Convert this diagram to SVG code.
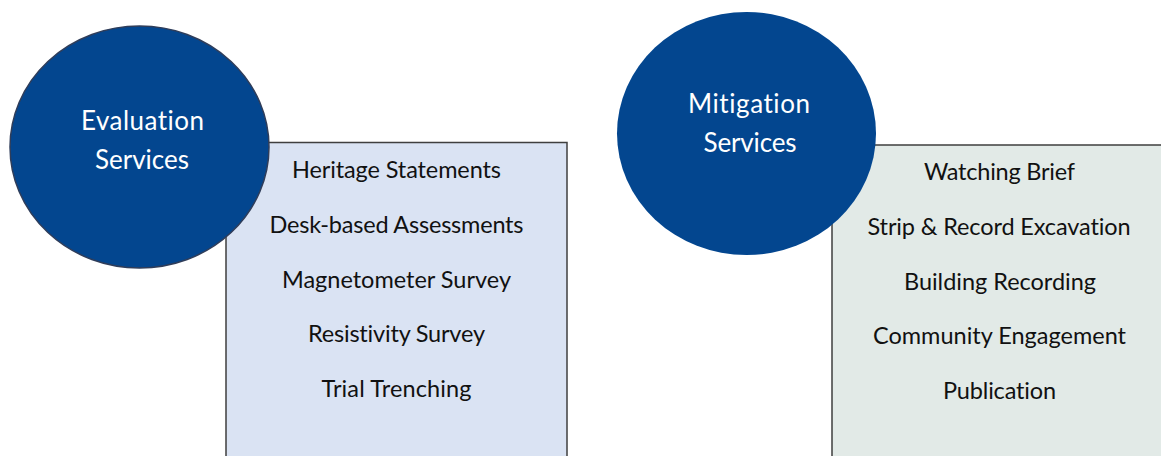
<svg xmlns="http://www.w3.org/2000/svg" width="1161" height="456" viewBox="0 0 1161 456">
  <style>
    .panel { stroke: #3f3f3f; stroke-width: 1.5; }
    .blue-panel { fill: #dae3f3; }
    .green-panel { fill: #e2eae7; }
    .hub { fill: #03468f; }
    text { font-variant-ligatures: none; }
    .item { font-family: Lato, "Open Sans", sans-serif; font-size: 23.5px; fill: #111111; text-anchor: middle; }
    .hub-label { font-family: Lato, "Open Sans", sans-serif; font-size: 26px; fill: #ffffff; text-anchor: middle; }
  </style>
  <rect width="1161" height="456" fill="#ffffff"/>

  <!-- Evaluation list panel -->
  <g id="evaluation-list">
    <rect class="panel blue-panel" x="226" y="142.5" width="341" height="330"/>
    <text class="item" x="396.5" y="177.5" textLength="209">Heritage Statements</text>
    <text class="item" x="396.5" y="232.5" textLength="254">Desk-based Assessments</text>
    <text class="item" x="396.5" y="287.5" textLength="229">Magnetometer Survey</text>
    <text class="item" x="396.5" y="341.5" textLength="177">Resistivity Survey</text>
    <text class="item" x="396.5" y="396.5" textLength="150">Trial Trenching</text>
  </g>

  <!-- Evaluation hub -->
  <g id="evaluation-services">
    <ellipse class="hub" cx="139.5" cy="147" rx="129.5" ry="121" stroke="#2f3d5a" stroke-width="1.5"/>
    <text class="hub-label" x="142.5" y="130" textLength="123">Evaluation</text>
    <text class="hub-label" x="142" y="169" textLength="94">Services</text>
  </g>

  <!-- Mitigation list panel -->
  <g id="mitigation-list">
    <rect class="panel green-panel" x="832" y="145" width="334" height="330"/>
    <text class="item" x="999.5" y="179.5" textLength="151">Watching Brief</text>
    <text class="item" x="999" y="234.5" textLength="263">Strip &amp; Record Excavation</text>
    <text class="item" x="1000" y="289.5" textLength="192">Building Recording</text>
    <text class="item" x="999.5" y="344" textLength="253">Community Engagement</text>
    <text class="item" x="999.5" y="399" textLength="113">Publication</text>
  </g>

  <!-- Mitigation hub -->
  <g id="mitigation-services">
    <ellipse class="hub" cx="746.5" cy="133.5" rx="129.5" ry="121.5"/>
    <text class="hub-label" x="749" y="113" textLength="122">Mitigation</text>
    <text class="hub-label" x="750" y="151.5" textLength="93">Services</text>
  </g>
</svg>
